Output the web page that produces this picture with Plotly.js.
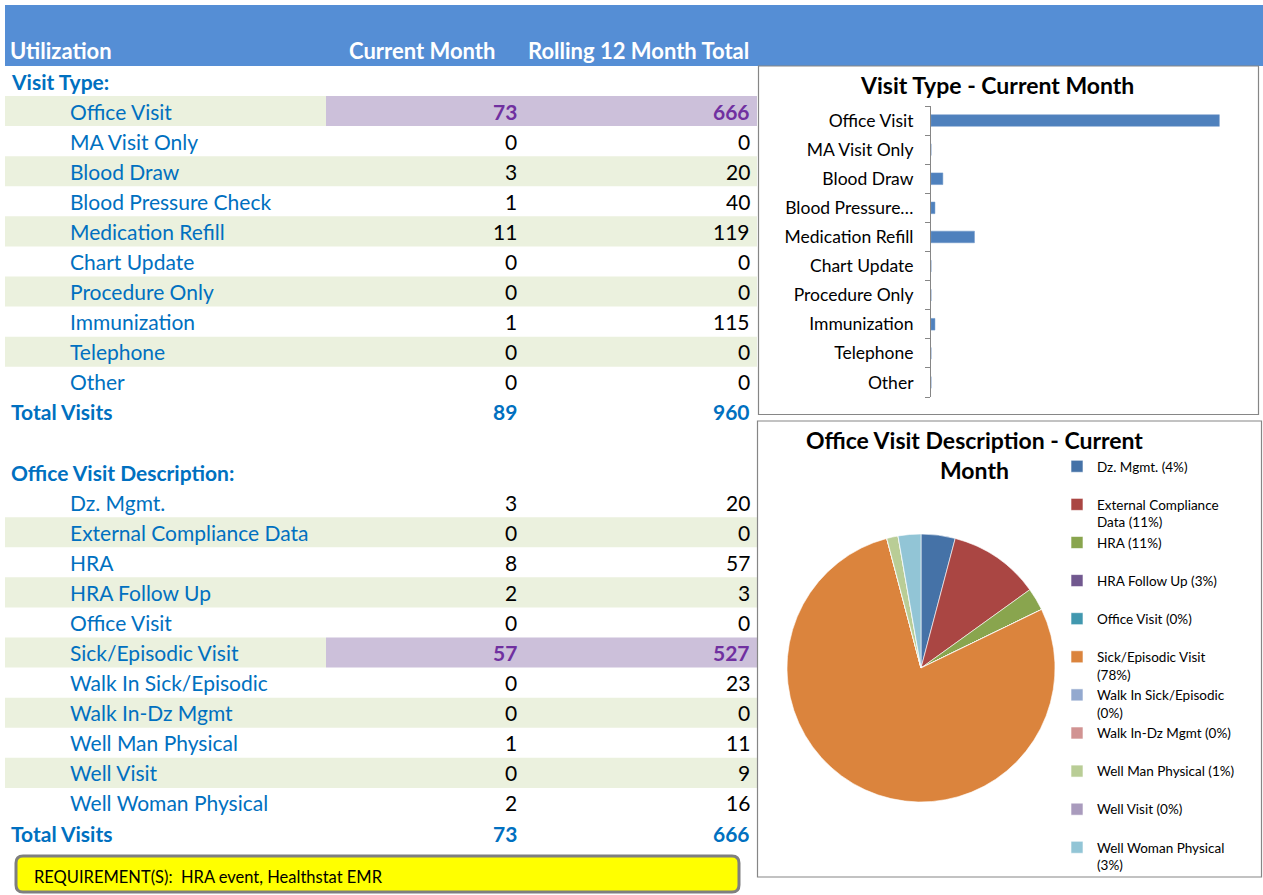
<!DOCTYPE html>
<html><head><meta charset="utf-8">
<script src="https://cdn.plot.ly/plotly-3.0.1.min.js"></script>
<style>html,body{margin:0;padding:0;background:#fff;overflow:hidden}#chart{width:1263px;height:895px}</style>
</head><body><div id="chart"></div>
<script>
// ---------- data ----------
const visitTypes = ['Office Visit','MA Visit Only','Blood Draw','Blood Pressure Check','Medication Refill','Chart Update','Procedure Only','Immunization','Telephone','Other'];
const visitCurrent = [73,0,3,1,11,0,0,1,0,0];
const visitRolling = [666,0,20,40,119,0,0,115,0,0];
const visitTotals = [89,960];
const barTickLabels = ['Office Visit','MA Visit Only','Blood Draw','Blood Pressure…','Medication Refill','Chart Update','Procedure Only','Immunization','Telephone','Other'];

const descTypes = ['Dz. Mgmt.','External Compliance Data','HRA','HRA Follow Up','Office Visit','Sick/Episodic Visit','Walk In Sick/Episodic','Walk In-Dz Mgmt','Well Man Physical','Well Visit','Well Woman Physical'];
const descCurrent = [3,0,8,2,0,57,0,0,1,0,2];
const descRolling = [20,0,57,3,0,527,23,0,11,9,16];
const descTotals = [73,666];

const pieValues = [3,8,2,0,0,57,0,0,1,0,2];
const pieLegendText = ['Dz. Mgmt. (4%)','External Compliance<br>Data (11%)','HRA (11%)','HRA Follow Up (3%)','Office Visit (0%)','Sick/Episodic Visit<br>(78%)','Walk In Sick/Episodic<br>(0%)','Walk In-Dz Mgmt (0%)','Well Man Physical (1%)','Well Visit (0%)','Well Woman Physical<br>(3%)'];
const pieColors = ['#4572A7','#AA4643','#89A54E','#71588F','#4198AF','#DB843D','#93A9CF','#D19392','#B9CD96','#A99BBD','#92C5D6'];

const headerTexts = ['Utilization','Current Month','Rolling 12 Month Total'];
const sectionTitles = ['Visit Type:','Office Visit Description:'];
const totalLabel = 'Total Visits';
const chartTitles = ['Visit Type - Current Month','Office Visit Description - Current<br>Month'];
const requirementText = 'REQUIREMENT(S):\u00a0\u00a0HRA event, Healthstat EMR';

// ---------- layout helpers ----------
const W = 1263, H = 895;
const px = x => x / W, py = y => 1 - y / H;
const ROW0 = 81, ROWH = 30.08;
const rowOf = y => (y - ROW0) / ROWH;
const FONT = 'Lato, "Open Sans", sans-serif';
const LBLUE = '#0070C0', PURPLE = '#7030A0', GREEN = '#EBF1DE', LILAC = '#CCC0DA', HEADER = '#558ED5', GRAY = '#868686';
const TS = 21; // table font size
const COL_LABEL = 68, COL_SECTION = 9, COL_CUR = 519, COL_ROLL = 752, SHADE_L = 5, SHADE_R = 757, SPLIT = 326;

const shapes = [], annotations = [];
function ann(o) { annotations.push(Object.assign({showarrow:false, xref:'x3', yref:'y3'}, o)); }
function tfont(color, bold, size) { return {family:FONT, size:size||TS, color:color, weight: bold ? 700 : 400}; }

// header band
shapes.push({type:'rect', xref:'paper', yref:'paper', x0:px(5), x1:px(1263), y0:py(66), y1:py(5), fillcolor:HEADER, line:{width:0}, layer:'below'});
annotations.push({xref:'paper', yref:'paper', showarrow:false, x:px(8), y:py(51), xanchor:'left', yanchor:'middle', text:headerTexts[0], font:tfont('#fff', true, 22)});
annotations.push({xref:'paper', yref:'paper', showarrow:false, x:px(497), y:py(51), xanchor:'right', yanchor:'middle', text:headerTexts[1], font:tfont('#fff', true, 22)});
annotations.push({xref:'paper', yref:'paper', showarrow:false, x:px(751), y:py(51), xanchor:'right', yanchor:'middle', text:headerTexts[2], font:tfont('#fff', true, 22)});

function section(startRow, title, names, cur, roll, totals) {
  ann({x:COL_SECTION, y:startRow, xanchor:'left', yanchor:'middle', text:title, font:tfont(LBLUE, true)});
  let maxIdx = cur.indexOf(Math.max(...cur));
  names.forEach((n, i) => {
    const r = startRow + 1 + i;
    const hi = i === maxIdx;
    if (r % 2 === 1 || hi) {
      shapes.push({type:'rect', xref:'x3', yref:'y3', x0:SHADE_L, x1:hi ? SPLIT : SHADE_R, y0:r - 0.5, y1:r + 0.5, fillcolor:GREEN, line:{width:0}, layer:'below'});
      if (hi) shapes.push({type:'rect', xref:'x3', yref:'y3', x0:SPLIT, x1:SHADE_R, y0:r - 0.5, y1:r + 0.5, fillcolor:LILAC, line:{width:0}, layer:'below'});
    }
    ann({x:COL_LABEL, y:r, xanchor:'left', yanchor:'middle', text:n, font:tfont(LBLUE, false)});
    ann({x:COL_CUR, y:r, xanchor:'right', yanchor:'middle', text:String(cur[i]), font:tfont(hi ? PURPLE : '#000', hi)});
    ann({x:COL_ROLL, y:r, xanchor:'right', yanchor:'middle', text:String(roll[i]), font:tfont(hi ? PURPLE : '#000', hi)});
  });
  const tr = startRow + 1 + names.length;
  ann({x:COL_SECTION, y:tr, xanchor:'left', yanchor:'middle', text:totalLabel, font:tfont(LBLUE, true)});
  ann({x:COL_CUR, y:tr, xanchor:'right', yanchor:'middle', text:String(totals[0]), font:tfont(LBLUE, true)});
  ann({x:COL_ROLL, y:tr, xanchor:'right', yanchor:'middle', text:String(totals[1]), font:tfont(LBLUE, true)});
  return tr;
}
const end1 = section(0, sectionTitles[0], visitTypes, visitCurrent, visitRolling, visitTotals);
section(end1 + 2, sectionTitles[1], descTypes, descCurrent, descRolling, descTotals);

// chart boxes
shapes.push({type:'rect', xref:'paper', yref:'paper', x0:px(758.5), x1:px(1258.5), y0:py(414.5), y1:py(66), fillcolor:'rgba(0,0,0,0)', line:{color:GRAY, width:1.2}});
shapes.push({type:'rect', xref:'paper', yref:'paper', x0:px(757.5), x1:px(1261.5), y0:py(877), y1:py(421), fillcolor:'rgba(0,0,0,0)', line:{color:GRAY, width:1.2}});

// requirement box (rounded)
(function(){
  const x0 = 16, x1 = 739, y0 = 856, y1 = 892, r = 7;
  const P = (x, y) => px(x) + ',' + py(y);
  const path = 'M' + P(x0 + r, y0) + ' L' + P(x1 - r, y0) + ' Q' + P(x1, y0) + ' ' + P(x1, y0 + r) +
    ' L' + P(x1, y1 - r) + ' Q' + P(x1, y1) + ' ' + P(x1 - r, y1) + ' L' + P(x0 + r, y1) +
    ' Q' + P(x0, y1) + ' ' + P(x0, y1 - r) + ' L' + P(x0, y0 + r) + ' Q' + P(x0, y0) + ' ' + P(x0 + r, y0) + ' Z';
  shapes.push({type:'path', xref:'paper', yref:'paper', path:path, fillcolor:'#FFFF00', line:{color:'#7F7F7F', width:3}});
  annotations.push({xref:'paper', yref:'paper', showarrow:false, x:px(32), y:py(877), xanchor:'left', yanchor:'middle', text:requirementText, font:{family:FONT, size:16.5, color:'#000'}});
})();

// chart titles
annotations.push({xref:'paper', yref:'paper', showarrow:false, x:px(997), y:py(85), xanchor:'center', yanchor:'middle', text:chartTitles[0], font:{family:FONT, size:23, color:'#000', weight:700}});
annotations.push({xref:'paper', yref:'paper', showarrow:false, x:px(974), y:py(455), xanchor:'center', yanchor:'middle', text:chartTitles[1], font:{family:FONT, size:23, color:'#000', weight:700}});

// legend entries all occupy two text lines, as in the original
const legendLabels = pieLegendText.map(t => t.indexOf('<br>') >= 0 ? t : t + '<br>\u00a0');

// ---------- traces ----------
const traces = [
  {type:'scatter', x:[], y:[], xaxis:'x3', yaxis:'y3', showlegend:false, hoverinfo:'skip'},
  {type:'bar', orientation:'h', x:visitCurrent, y:visitTypes, xaxis:'x', yaxis:'y', marker:{color:'#4F81BD', line:{color:'#6E96C8', width:0.5}}, showlegend:false, hoverinfo:'y+x'},
  {type:'pie', values:pieValues, labels:legendLabels, sort:false, direction:'clockwise', rotation:0,
   marker:{colors:pieColors, line:{color:'#ffffff', width:0.6}}, textinfo:'none', hoverinfo:'label+value',
   domain:{x:[px(787), px(1055)], y:[py(802), py(534)]}, showlegend:true}
];

const layout = {
  width:W, height:H, margin:{l:0, r:0, t:0, b:0}, paper_bgcolor:'#fff', plot_bgcolor:'rgba(0,0,0,0)',
  showlegend:true, bargap:0.6,
  xaxis:{domain:[px(931), px(1247)], range:[0,80], visible:false, fixedrange:true, anchor:'y'},
  yaxis:{domain:[py(397), py(106)], anchor:'x', type:'category', categoryorder:'array', categoryarray:visitTypes, autorange:'reversed',
    tickmode:'array', tickvals:visitTypes, ticktext:barTickLabels, ticks:'outside', tickson:'boundaries', ticklen:5, tickcolor:GRAY,
    showline:true, linecolor:GRAY, linewidth:1, showgrid:false, zeroline:false, fixedrange:true,
    tickfont:{family:FONT, size:17.5, color:'#000'}, ticklabelstandoff:13},
  xaxis3:{domain:[0,1], range:[0,W], visible:false, fixedrange:true, anchor:'y3'},
  yaxis3:{domain:[0,1], range:[rowOf(H), rowOf(0)], visible:false, fixedrange:true, anchor:'x3'},
  legend:{x:px(1057), y:py(451), xanchor:'left', yanchor:'top', font:{family:FONT, size:13.5, color:'#000'}, valign:'top',
    bgcolor:'rgba(0,0,0,0)', borderwidth:0, traceorder:'normal', itemclick:false, itemdoubleclick:false},
  shapes:shapes, annotations:annotations
};
Plotly.newPlot('chart', traces, layout, {displayModeBar:false, staticPlot:true});
</script></body></html>
